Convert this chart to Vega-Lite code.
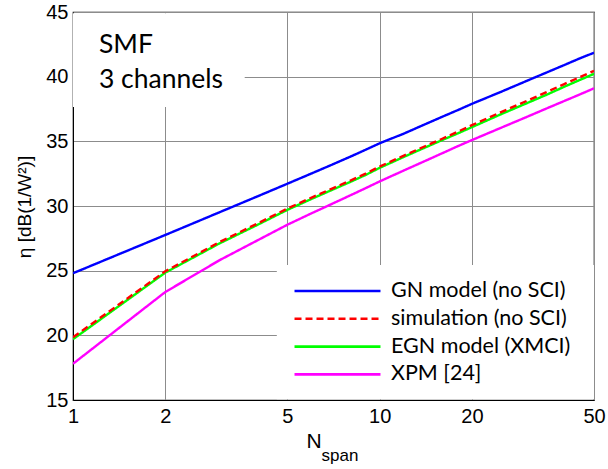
{
  "$schema": "https://vega.github.io/schema/vega-lite/v6.json",
  "width": 521,
  "height": 388,
  "autosize": "none",
  "padding": {"left": 73, "top": 12, "right": 14, "bottom": 69},
  "background": "white",
  "config": {
    "view": {"stroke": "black", "strokeWidth": 1.2},
    "axis": {
      "domainColor": "black",
      "gridColor": "#8c8c8c",
      "gridWidth": 1,
      "gridOpacity": 1,
      "ticks": false,
      "tickSize": 0,
      "labelFont": "Liberation Sans",
      "labelFontSize": 20,
      "labelColor": "black",
      "titleFont": "Liberation Sans",
      "titleColor": "black",
      "titleFontWeight": "normal"
    }
  },
  "resolve": {"axis": {"x": "independent"}},
  "datasets": {
    "curves": [
      {"N": 1, "series": "GN model (no SCI)", "eta": 24.8},
      {"N": 2, "series": "GN model (no SCI)", "eta": 27.76},
      {"N": 3, "series": "GN model (no SCI)", "eta": 29.51},
      {"N": 4, "series": "GN model (no SCI)", "eta": 30.75},
      {"N": 5, "series": "GN model (no SCI)", "eta": 31.72},
      {"N": 6, "series": "GN model (no SCI)", "eta": 32.52},
      {"N": 7, "series": "GN model (no SCI)", "eta": 33.2},
      {"N": 8, "series": "GN model (no SCI)", "eta": 33.8},
      {"N": 9, "series": "GN model (no SCI)", "eta": 34.35},
      {"N": 10, "series": "GN model (no SCI)", "eta": 34.85},
      {"N": 12, "series": "GN model (no SCI)", "eta": 35.6},
      {"N": 14, "series": "GN model (no SCI)", "eta": 36.3},
      {"N": 16, "series": "GN model (no SCI)", "eta": 36.9},
      {"N": 18, "series": "GN model (no SCI)", "eta": 37.42},
      {"N": 20, "series": "GN model (no SCI)", "eta": 37.9},
      {"N": 25, "series": "GN model (no SCI)", "eta": 38.85},
      {"N": 30, "series": "GN model (no SCI)", "eta": 39.65},
      {"N": 35, "series": "GN model (no SCI)", "eta": 40.32},
      {"N": 40, "series": "GN model (no SCI)", "eta": 40.9},
      {"N": 45, "series": "GN model (no SCI)", "eta": 41.42},
      {"N": 50, "series": "GN model (no SCI)", "eta": 41.85},
      {"N": 1, "series": "EGN model (XMCI)", "eta": 19.7},
      {"N": 2, "series": "EGN model (XMCI)", "eta": 24.85},
      {"N": 3, "series": "EGN model (XMCI)", "eta": 27.1},
      {"N": 4, "series": "EGN model (XMCI)", "eta": 28.55},
      {"N": 5, "series": "EGN model (XMCI)", "eta": 29.7},
      {"N": 6, "series": "EGN model (XMCI)", "eta": 30.55},
      {"N": 7, "series": "EGN model (XMCI)", "eta": 31.25},
      {"N": 8, "series": "EGN model (XMCI)", "eta": 31.85},
      {"N": 9, "series": "EGN model (XMCI)", "eta": 32.4},
      {"N": 10, "series": "EGN model (XMCI)", "eta": 32.95},
      {"N": 12, "series": "EGN model (XMCI)", "eta": 33.8},
      {"N": 14, "series": "EGN model (XMCI)", "eta": 34.5},
      {"N": 16, "series": "EGN model (XMCI)", "eta": 35.1},
      {"N": 18, "series": "EGN model (XMCI)", "eta": 35.62},
      {"N": 20, "series": "EGN model (XMCI)", "eta": 36.1},
      {"N": 25, "series": "EGN model (XMCI)", "eta": 37.12},
      {"N": 30, "series": "EGN model (XMCI)", "eta": 37.92},
      {"N": 35, "series": "EGN model (XMCI)", "eta": 38.6},
      {"N": 40, "series": "EGN model (XMCI)", "eta": 39.22},
      {"N": 45, "series": "EGN model (XMCI)", "eta": 39.75},
      {"N": 50, "series": "EGN model (XMCI)", "eta": 40.22},
      {"N": 1, "series": "XPM [24]", "eta": 17.8},
      {"N": 2, "series": "XPM [24]", "eta": 23.35},
      {"N": 3, "series": "XPM [24]", "eta": 25.8},
      {"N": 4, "series": "XPM [24]", "eta": 27.35},
      {"N": 5, "series": "XPM [24]", "eta": 28.55},
      {"N": 6, "series": "XPM [24]", "eta": 29.44},
      {"N": 7, "series": "XPM [24]", "eta": 30.17},
      {"N": 8, "series": "XPM [24]", "eta": 30.81},
      {"N": 9, "series": "XPM [24]", "eta": 31.38},
      {"N": 10, "series": "XPM [24]", "eta": 31.9},
      {"N": 12, "series": "XPM [24]", "eta": 32.75},
      {"N": 14, "series": "XPM [24]", "eta": 33.46},
      {"N": 16, "series": "XPM [24]", "eta": 34.08},
      {"N": 18, "series": "XPM [24]", "eta": 34.63},
      {"N": 20, "series": "XPM [24]", "eta": 35.1},
      {"N": 25, "series": "XPM [24]", "eta": 36.07},
      {"N": 30, "series": "XPM [24]", "eta": 36.86},
      {"N": 35, "series": "XPM [24]", "eta": 37.54},
      {"N": 40, "series": "XPM [24]", "eta": 38.12},
      {"N": 45, "series": "XPM [24]", "eta": 38.63},
      {"N": 50, "series": "XPM [24]", "eta": 39.1},
      {"N": 1, "series": "simulation (no SCI)", "eta": 19.85},
      {"N": 2, "series": "simulation (no SCI)", "eta": 24.95},
      {"N": 3, "series": "simulation (no SCI)", "eta": 27.2},
      {"N": 4, "series": "simulation (no SCI)", "eta": 28.65},
      {"N": 5, "series": "simulation (no SCI)", "eta": 29.8},
      {"N": 6, "series": "simulation (no SCI)", "eta": 30.65},
      {"N": 7, "series": "simulation (no SCI)", "eta": 31.35},
      {"N": 8, "series": "simulation (no SCI)", "eta": 31.95},
      {"N": 9, "series": "simulation (no SCI)", "eta": 32.5},
      {"N": 10, "series": "simulation (no SCI)", "eta": 33.05},
      {"N": 12, "series": "simulation (no SCI)", "eta": 33.9},
      {"N": 14, "series": "simulation (no SCI)", "eta": 34.6},
      {"N": 16, "series": "simulation (no SCI)", "eta": 35.2},
      {"N": 18, "series": "simulation (no SCI)", "eta": 35.75},
      {"N": 20, "series": "simulation (no SCI)", "eta": 36.25},
      {"N": 25, "series": "simulation (no SCI)", "eta": 37.28},
      {"N": 30, "series": "simulation (no SCI)", "eta": 38.1},
      {"N": 35, "series": "simulation (no SCI)", "eta": 38.8},
      {"N": 40, "series": "simulation (no SCI)", "eta": 39.43},
      {"N": 45, "series": "simulation (no SCI)", "eta": 39.97},
      {"N": 50, "series": "simulation (no SCI)", "eta": 40.45}
    ],
    "note": [{"label": "SMF\n3 channels"}]
  },
  "layer": [
    {
      "data": {"values": [{}]},
      "mark": {"type": "rect", "fill": "white", "stroke": null},
      "encoding": {
        "x": {
          "datum": 4.62,
          "type": "quantitative",
          "axis": {
            "orient": "bottom",
            "title": "span",
            "titleFontSize": 17,
            "titleX": 266.5,
            "titleY": 60,
            "titleBaseline": "alphabetic",
            "titleAlign": "center",
            "labels": false,
            "domain": false,
            "grid": false,
            "ticks": false
          }
        },
        "x2": {"datum": 50},
        "y": {"datum": 25.43, "type": "quantitative"},
        "y2": {"datum": 15.05}
      }
    },
    {
      "data": {"name": "curves"},
      "mark": {"type": "line", "strokeWidth": 2.4, "clip": true},
      "encoding": {
        "x": {
          "field": "N",
          "type": "quantitative",
          "scale": {"type": "log", "domain": [1, 50], "nice": false},
          "axis": {
            "orient": "bottom",
            "values": [1, 2, 5, 10, 20, 50],
            "format": "d",
            "grid": true,
            "labelPadding": 6,
            "labelFlush": false,
            "title": "N",
            "titleFontSize": 21,
            "titleX": 240.5,
            "titleY": 47,
            "titleBaseline": "alphabetic",
            "titleAlign": "center"
          }
        },
        "y": {
          "field": "eta",
          "type": "quantitative",
          "scale": {"domain": [15, 45], "nice": false, "zero": false},
          "axis": {
            "values": [15, 20, 25, 30, 35, 40, 45],
            "grid": true,
            "labelPadding": 5,
            "title": "η [dB(1/W²)]",
            "titleFontSize": 19,
            "titleX": -43,
            "titleY": 194.5,
            "titleAngle": -90,
            "titleBaseline": "alphabetic",
            "titleAlign": "center"
          }
        },
        "color": {
          "field": "series",
          "type": "nominal",
          "sort": null,
          "scale": {
            "domain": ["GN model (no SCI)", "simulation (no SCI)", "EGN model (XMCI)", "XPM [24]"],
            "range": ["#0000ff", "#ff0000", "#00ff00", "#ff00ff"]
          },
          "legend": {
            "title": null,
            "orient": "none",
            "legendX": 252,
            "legendY": 266.5,
            "padding": 0,
            "symbolType": "M-4,0H4",
            "symbolSize": 462,
            "symbolStrokeWidth": 2.6,
            "labelFont": "Lato",
            "labelFontSize": 21.5,
            "labelColor": "black",
            "labelOffset": 41,
            "rowPadding": 4.8,
            "labelLimit": 300
          }
        },
        "strokeDash": {
          "field": "series",
          "type": "nominal",
          "sort": null,
          "scale": {
            "domain": ["GN model (no SCI)", "simulation (no SCI)", "EGN model (XMCI)", "XPM [24]"],
            "range": [[1, 0], [7, 4], [1, 0], [1, 0]]
          },
          "legend": {
            "title": null,
            "orient": "none",
            "legendX": 252,
            "legendY": 266.5,
            "padding": 0,
            "symbolType": "M-4,0H4",
            "symbolSize": 462,
            "symbolStrokeWidth": 2.6,
            "labelFont": "Lato",
            "labelFontSize": 21.5,
            "labelColor": "black",
            "labelOffset": 41,
            "rowPadding": 4.8,
            "labelLimit": 300
          }
        }
      }
    },
    {
      "data": {"values": [{}]},
      "mark": {"type": "rect", "fill": "white", "stroke": null},
      "encoding": {
        "x": {"datum": 1.0, "type": "quantitative", "axis": null},
        "x2": {"datum": 3.63},
        "y": {"datum": 44.9, "type": "quantitative"},
        "y2": {"datum": 37.65}
      }
    },
    {
      "data": {"name": "note"},
      "mark": {"type": "text", "align": "left", "baseline": "alphabetic", "font": "Lato", "fontSize": 26.5, "color": "black", "lineBreak": "\n", "lineHeight": 35},
      "encoding": {
        "x": {"datum": 1.215, "type": "quantitative", "axis": null},
        "y": {"datum": 41.83, "type": "quantitative"},
        "text": {"field": "label"}
      }
    }
  ]
}
